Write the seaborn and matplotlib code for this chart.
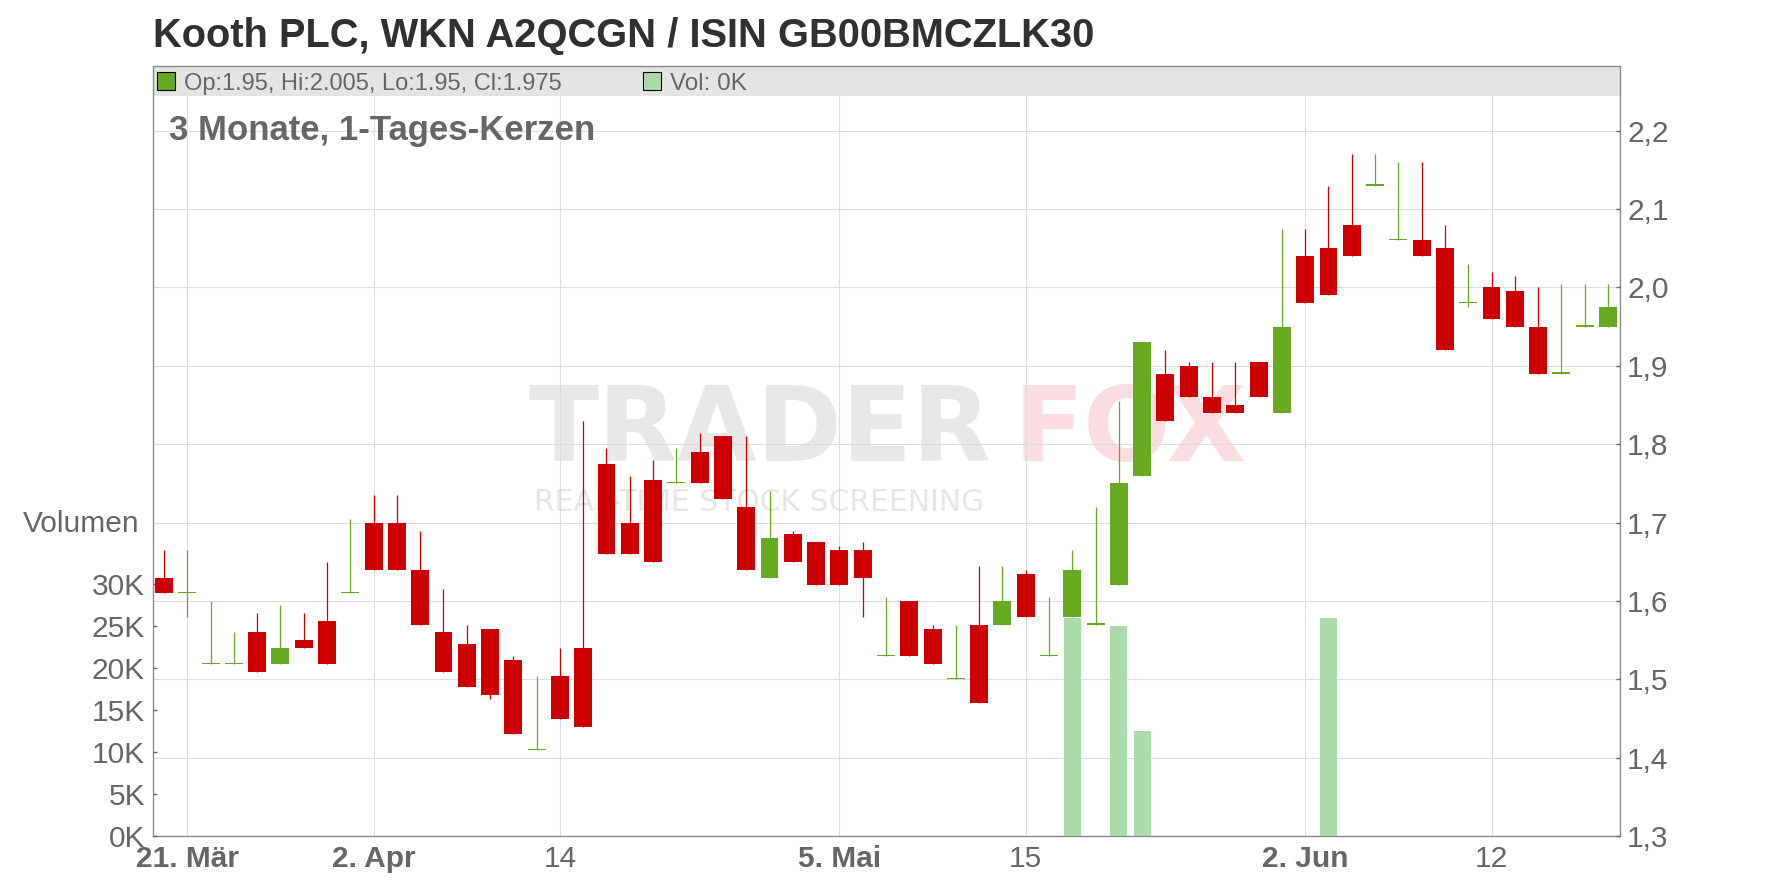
import seaborn as sns
import matplotlib.pyplot as plt
from matplotlib.patches import Rectangle
from matplotlib.ticker import FuncFormatter
import numpy as np

# daily candles, one per trading day (20. Mär .. 19. Jun)
opens = [1.63, 1.61, 1.52, 1.52, 1.56, 1.52, 1.55, 1.575, 1.61, 1.70,
         1.70, 1.64, 1.56, 1.545, 1.565, 1.525, 1.41, 1.505, 1.54, 1.775,
         1.70, 1.755, 1.75, 1.79, 1.81, 1.72, 1.63, 1.685, 1.675, 1.665,
         1.665, 1.53, 1.60, 1.565, 1.50, 1.57, 1.57, 1.635, 1.53, 1.58,
         1.57, 1.62, 1.76, 1.89, 1.90, 1.86, 1.85, 1.905, 1.84, 2.04,
         2.05, 2.08, 2.13, 2.06, 2.06, 2.05, 1.98, 2.00, 1.995, 1.95,
         1.89, 1.95, 1.95]
highs = [1.665, 1.665, 1.60, 1.56, 1.585, 1.595, 1.585, 1.65, 1.705, 1.735,
         1.735, 1.69, 1.615, 1.57, 1.565, 1.53, 1.505, 1.54, 1.83, 1.795,
         1.76, 1.78, 1.795, 1.815, 1.81, 1.81, 1.74, 1.69, 1.675, 1.67,
         1.675, 1.605, 1.60, 1.57, 1.57, 1.645, 1.645, 1.64, 1.605, 1.665,
         1.72, 1.855, 1.93, 1.92, 1.905, 1.905, 1.905, 1.905, 2.075, 2.075,
         2.13, 2.17, 2.17, 2.16, 2.16, 2.08, 2.03, 2.02, 2.015, 2.00,
         2.005, 2.005, 2.005]
lows = [1.61, 1.58, 1.52, 1.52, 1.51, 1.52, 1.54, 1.52, 1.61, 1.64,
        1.64, 1.57, 1.51, 1.49, 1.475, 1.43, 1.41, 1.45, 1.44, 1.66,
        1.66, 1.65, 1.75, 1.75, 1.73, 1.64, 1.63, 1.65, 1.62, 1.62,
        1.58, 1.53, 1.53, 1.52, 1.50, 1.47, 1.57, 1.58, 1.53, 1.58,
        1.57, 1.62, 1.76, 1.83, 1.86, 1.84, 1.84, 1.86, 1.84, 1.98,
        1.99, 2.04, 2.13, 2.06, 2.04, 1.92, 1.975, 1.96, 1.95, 1.89,
        1.89, 1.95, 1.95]
closes = [1.61, 1.61, 1.52, 1.52, 1.51, 1.54, 1.54, 1.52, 1.61, 1.64,
          1.64, 1.57, 1.51, 1.49, 1.48, 1.43, 1.41, 1.45, 1.44, 1.66,
          1.66, 1.65, 1.75, 1.75, 1.73, 1.64, 1.68, 1.65, 1.62, 1.62,
          1.63, 1.53, 1.53, 1.52, 1.50, 1.47, 1.60, 1.58, 1.53, 1.64,
          1.57, 1.75, 1.93, 1.83, 1.86, 1.84, 1.84, 1.86, 1.95, 1.98,
          1.99, 2.04, 2.13, 2.06, 2.04, 1.92, 1.98, 1.96, 1.95, 1.89,
          1.89, 1.95, 1.975]
# volume in thousand shares
volumes_k = [0, 0, 0, 0, 0, 0, 0, 0, 0, 0,
             0, 0, 0, 0, 0, 0, 0, 0, 0, 0,
             0, 0, 0, 0, 0, 0, 0, 0, 0, 0,
             0, 0, 0, 0, 0, 0, 0, 0, 0, 26.0,
             0, 25.0, 12.5, 0, 0, 0, 0, 0, 0, 0,
             26.0, 0, 0, 0, 0, 0, 0, 0, 0, 0,
             0, 0, 0]

tick_pos = [1, 9, 17, 29, 37, 49, 57]
tick_labels = ["21. Mär", "2. Apr", "14", "5. Mai", "15", "2. Jun", "12"]
bold_labels = ["21. Mär", "2. Apr", "5. Mai", "2. Jun"]
price_ticks = [1.3, 1.4, 1.5, 1.6, 1.7, 1.8, 1.9, 2.0, 2.1, 2.2]
vol_ticks = [0, 5, 10, 15, 20, 25, 30]

title = "Kooth PLC, WKN A2QCGN / ISIN GB00BMCZLK30"
subtitle = "3 Monate, 1-Tages-Kerzen"
last_info = "Op:1.95, Hi:2.005, Lo:1.95, Cl:1.975"
vol_info = "Vol: 0K"

RED = "#cc0000"
GREEN = "#66aa22"
VOL_GREEN = "#aadcaa"
GREY_TXT = "#666666"
TICK_FS = 21.5

sns.set_theme(style="white")
plt.rcParams['font.family'] = ['Liberation Sans', 'DejaVu Sans']

W, H = 1776, 888
fig = plt.figure(figsize=(W / 100, H / 100), dpi=100)
L, R, B, T = 152.7, 1620.3, 836.3, 66.0
rect = [L / W, 1 - B / H, (R - L) / W, (B - T) / H]

ax_grid = fig.add_axes(rect)
ax_vol = fig.add_axes(rect, sharex=ax_grid)
ax = fig.add_axes(rect, sharex=ax_grid, sharey=ax_grid)
ax_vol.patch.set_visible(False)
ax.patch.set_visible(False)

idx = np.arange(len(opens))
o = np.array(opens)
c = np.array(closes)
up = c >= o
cols = [GREEN if u else RED for u in up]

# volume bars
sns.barplot(x=idx, y=volumes_k, native_scale=True, color=VOL_GREEN,
            saturation=1, width=0.73, errorbar=None, linewidth=0, ax=ax_vol)

# candles
ax.vlines(idx, lows, highs, colors=cols, lw=0.9, zorder=2)
body_h = np.maximum(np.abs(c - o), 0.0016)
ax.bar(idx, body_h, bottom=np.minimum(o, c), width=0.77, color=cols,
       linewidth=0, zorder=3)

# limits
ax_grid.set_xlim(-0.485, 62.53)
ax_grid.set_ylim(1.3, 1.3 + (B - T) / 784)
ax_vol.set_ylim(0, (B - T) / 8.4)

# grid / frame
ax_grid.set_axisbelow(True)
ax_grid.set_xticks(tick_pos)
ax_grid.set_xticklabels(tick_labels)
ax_grid.set_yticks(price_ticks)
ax_grid.grid(True, color="#dddddd", lw=0.8)
for s in ax_grid.spines.values():
    s.set_color("#8a8a8a")
    s.set_linewidth(1.0)
for a in (ax, ax_vol):
    for s in a.spines.values():
        s.set_visible(False)
ax_grid.add_patch(Rectangle((0, (B - 95.7) / (B - T)), 1, (95.7 - T) / (B - T),
                            transform=ax_grid.transAxes, color="#e4e4e4",
                            zorder=1, lw=0))

ax_grid.tick_params(axis='x', direction='out', length=2, width=1, color="#8a8a8a",
                    labelsize=TICK_FS, labelcolor=GREY_TXT, pad=4.5)
ax_grid.tick_params(axis='y', left=False, labelleft=False)
for lab in ax_grid.get_xticklabels():
    if lab.get_text() in bold_labels:
        lab.set_fontweight('bold')

ax.yaxis.tick_right()
ax.tick_params(axis='y', direction='in', length=3, width=1, color="#666666",
               labelsize=TICK_FS, labelcolor=GREY_TXT, pad=5, right=True,
               labelright=True, left=False, labelleft=False)
ax.tick_params(axis='x', bottom=False, labelbottom=False)
ax.yaxis.set_major_formatter(FuncFormatter(lambda v, p: f"{v:.1f}".replace('.', ',')))

ax_vol.set_yticks(vol_ticks)
ax_vol.set_yticklabels([f"{v}K" for v in vol_ticks])
ax_vol.tick_params(axis='y', direction='in', length=3, width=1, color="#666666",
                   labelsize=TICK_FS, labelcolor=GREY_TXT, pad=5.5, left=True)
ax_vol.tick_params(axis='x', bottom=False, labelbottom=False)
ax_vol.set_xlabel("")
ax_vol.set_ylabel("")

# watermark
ax_grid.text(760 / W, 1 - 461 / H, "TRADER", transform=fig.transFigure,
             family="DejaVu Sans", weight="bold", fontsize=74, color="#e8e8e8",
             ha="center", va="baseline", zorder=0.2)
ax_grid.text(1130 / W, 1 - 461 / H, "FOX", transform=fig.transFigure,
             family="DejaVu Sans", weight="bold", fontsize=74, color="#fcdde2",
             ha="center", va="baseline", zorder=0.2)
ax_grid.text(759 / W, 1 - 511 / H, "REAL-TIME STOCK SCREENING", transform=fig.transFigure,
             family="DejaVu Sans", fontsize=21.5, color="#e6e6e6",
             ha="center", va="baseline", zorder=0.2)

# texts
fig.text(153 / W, 1 - 47 / H, title, fontsize=28.7, weight="bold",
         color="#303030", ha="left", va="baseline")
fig.text(169 / W, 1 - 140 / H, subtitle, fontsize=25, weight="bold",
         color=GREY_TXT, ha="left", va="baseline")
fig.add_artist(Rectangle((157 / W, 1 - 90 / H), 18 / W, 18 / H, transform=fig.transFigure,
                         facecolor=GREEN, edgecolor="black", lw=0.8))
fig.text(184.5 / W, 1 - 89.7 / H, last_info, fontsize=17, color=GREY_TXT,
         ha="left", va="baseline")
fig.add_artist(Rectangle((643 / W, 1 - 90 / H), 18 / W, 18 / H, transform=fig.transFigure,
                         facecolor=VOL_GREEN, edgecolor="black", lw=0.8))
fig.text(670 / W, 1 - 89.7 / H, vol_info, fontsize=17.5, color=GREY_TXT,
         ha="left", va="baseline")
fig.text(139.3 / W, 1 - 531.7 / H, "Volumen", fontsize=21.5, color=GREY_TXT,
         ha="right", va="baseline")

plt.savefig("out.png", dpi=100)
